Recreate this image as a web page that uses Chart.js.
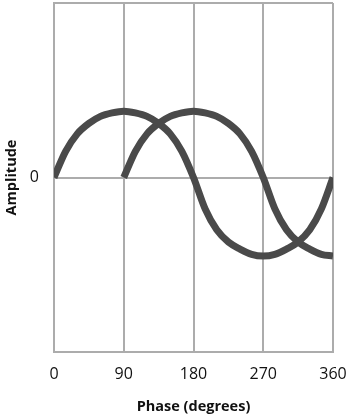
<!DOCTYPE html>
<html>
<head>
<meta charset="utf-8">
<script src="https://cdn.jsdelivr.net/npm/chart.js@4"></script>
<style>
	html, body { margin: 0; padding: 0; background: #fff; }
	#wrap { width: 350px; height: 416px; }
</style>
</head>
<body>
<div id="wrap"><canvas id="chart" width="350" height="416"></canvas></div>
<script>
// phase in degrees, every 15 degrees
const phase	= [ 0, 15, 30, 45, 60, 75, 90, 105, 120, 135, 150, 165, 180,
		    195, 210, 225, 240, 255, 270, 285, 300, 315, 330, 345, 360 ];

// wave starting at 0 degrees
const waveA	= [ 0, 0.15, 0.25, 0.31, 0.35, 0.37, 0.38, 0.37, 0.35, 0.31, 0.25, 0.15, 0,
		    -0.18, -0.30, -0.37, -0.41, -0.44, -0.45, -0.44, -0.41, -0.37, -0.30, -0.18, 0 ];

// wave starting at 90 degrees
const waveB	= [ null, null, null, null, null, null, 0, 0.15, 0.25, 0.31, 0.35, 0.37, 0.38,
		    0.37, 0.35, 0.31, 0.25, 0.15, 0, -0.18, -0.30, -0.37, -0.41, -0.44, -0.45 ];

const xTicks	= [ 0, 90, 180, 270, 360 ];
const yTicks	= [ -1, 0, 1 ];

const LINE_COLOR	= '#4a4a4a';
const GRID_COLOR	= '#acacac';

function toPoints( ys ) {
	let pts	= [];
	for ( let i = 0; i < phase.length; i++ ) {
		pts.push( { x: phase[ i ], y: ys[ i ] } );
	}
	return pts;
}

function series( ys ) {
	return {
		data: toPoints( ys ),
		borderColor: LINE_COLOR,
		borderWidth: 7,
		pointRadius: 0,
		cubicInterpolationMode: 'monotone',
		spanGaps: false,
		fill: false
	};
}

let cs	= {
	type: 'line',
	data: {
		datasets: [ series( waveA ), series( waveB ) ]
	},
	options: {
		responsive: false,
		animation: false,
		events: [],
		layout: { padding: { left: 0, right: 17, top: 3, bottom: 0 } },
		plugins: {
			legend: { display: false },
			tooltip: { enabled: false }
		},
		scales: {
			x: {
				type: 'linear',
				min: 0,
				max: 360,
				afterBuildTicks: axis => { axis.ticks = xTicks.map( v => ( { value: v } ) ); },
				afterFit: axis => {
					axis.height		= 64;
					axis.paddingLeft	= 0;
					axis.paddingRight	= 0;
				},
				grid: { color: GRID_COLOR, lineWidth: 2, drawTicks: false },
				border: { color: GRID_COLOR, width: 2 },
				ticks: {
					color: '#111',
					padding: 13,
					maxRotation: 0,
					font: { family: '"Open Sans"', size: 16 }
				},
				title: {
					display: true,
					text: 'Phase (degrees)',
					color: '#111',
					padding: { top: 0, bottom: 0 },
					font: { family: '"Open Sans"', size: 14.5, weight: 'bold' }
				}
			},
			y: {
				min: -1,
				max: 1,
				afterBuildTicks: axis => { axis.ticks = yTicks.map( v => ( { value: v } ) ); },
				afterFit: axis => {
					axis.width		= 54;
					axis.paddingTop		= 0;
					axis.paddingBottom	= 0;
				},
				grid: { color: GRID_COLOR, lineWidth: 2, drawTicks: false },
				border: { color: GRID_COLOR, width: 2 },
				ticks: {
					color: '#111',
					padding: 15,
					callback: v => v === 0 ? '0' : '',
					font: { family: '"Open Sans"', size: 16 }
				},
				title: {
					display: true,
					text: 'Amplitude',
					color: '#111',
					padding: { top: 3, bottom: 0 },
					font: { family: '"Open Sans"', size: 14.5, weight: 'bold' }
				}
			}
		}
	}
};

new Chart( document.getElementById( 'chart' ), cs );
</script>
</body>
</html>
